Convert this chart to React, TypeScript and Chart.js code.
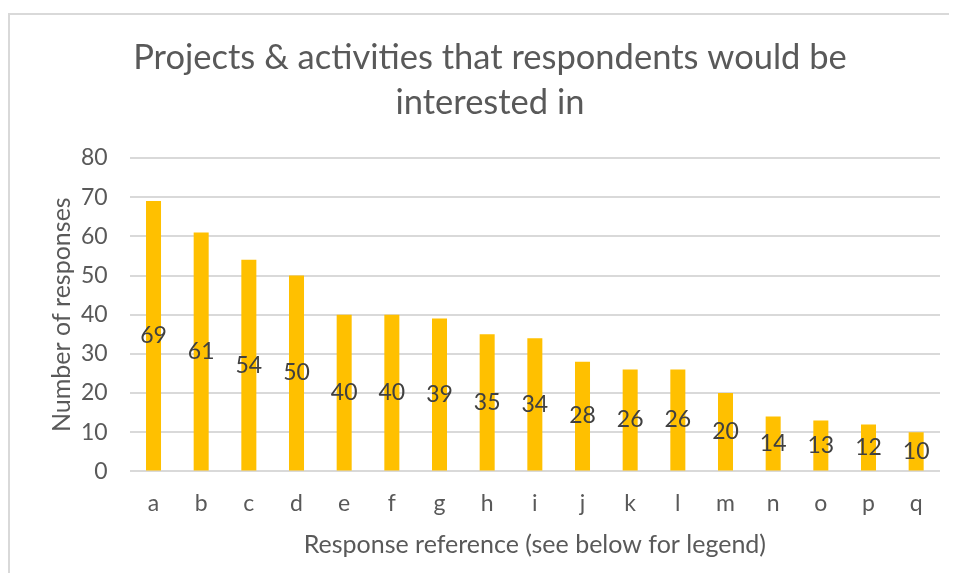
import React, { useEffect, useRef } from "react";
import { Chart, registerables } from "chart.js";

Chart.register(...registerables);

const categories = ["a", "b", "c", "d", "e", "f", "g", "h", "i", "j", "k", "l", "m", "n", "o", "p", "q"];
const responses = [69, 61, 54, 50, 40, 40, 39, 35, 34, 28, 26, 26, 20, 14, 13, 12, 10];
const titleLines = ["Projects & activities that respondents would be", "interested in"];
const yAxisTitle = "Number of responses";
const xAxisTitle = "Response reference (see below for legend)";

const FONT = "Lato, 'Open Sans', sans-serif";
const TEXT = "#595959";

const framePlugin = {
  id: "frame",
  beforeDraw(chart: any) {
    const ctx = chart.ctx;
    ctx.save();
    ctx.fillStyle = "#ffffff";
    ctx.fillRect(0, 0, chart.width, chart.height);
    ctx.strokeStyle = "#d9d9d9";
    ctx.lineWidth = 2;
    ctx.beginPath();
    ctx.moveTo(1, chart.height + 5);
    ctx.lineTo(1, 6);
    ctx.lineTo(chart.width + 5, 6);
    ctx.stroke();
    ctx.restore();
  },
};

const titlePlugin = {
  id: "customTitle",
  afterDraw(chart: any) {
    const ctx = chart.ctx;
    ctx.save();
    ctx.font = `34.5px ${FONT}`;
    ctx.fillStyle = TEXT;
    ctx.textAlign = "center";
    ctx.textBaseline = "middle";
    const cx = 482;
    titleLines.forEach((line, i) => ctx.fillText(line, cx, 50 + i * 45));
    ctx.restore();
  },
};

const labelPlugin = {
  id: "centerLabels",
  afterDatasetsDraw(chart: any) {
    const ctx = chart.ctx;
    const meta = chart.getDatasetMeta(0);
    ctx.save();
    ctx.font = `23px ${FONT}`;
    ctx.fillStyle = "#404040";
    ctx.textAlign = "center";
    ctx.textBaseline = "middle";
    meta.data.forEach((bar: any, i: number) => {
      const y = (bar.y + bar.base) / 2;
      ctx.fillText(String(chart.data.datasets[0].data[i]), bar.x, y);
    });
    ctx.restore();
  },
};

export default function App() {
  const ref = useRef<HTMLCanvasElement>(null);
  useEffect(() => {
    if (!ref.current) return;
    const chart = new Chart(ref.current, {
      type: "bar",
      data: {
        labels: categories,
        datasets: [
          {
            data: responses,
            backgroundColor: "#FFC000",
            barPercentage: 0.63,
            categoryPercentage: 0.5,
          },
        ],
      },
      options: {
        animation: false,
        responsive: false,
        maintainAspectRatio: false,
        layout: { padding: { left: 0, right: 9, top: 150, bottom: 13 } },
        plugins: {
          legend: { display: false },
          tooltip: { enabled: false },
          title: { display: false },
        },
        scales: {
          x: {
            grid: { display: false },
            border: { display: false },
            ticks: { color: TEXT, font: { family: FONT, size: 23 }, padding: 10 },
            title: {
              display: true,
              text: xAxisTitle,
              color: TEXT,
              font: { family: FONT, size: 25 },
              padding: { top: 3, bottom: 0 },
            },
          },
          y: {
            min: 0,
            max: 80,
            ticks: { stepSize: 10, color: TEXT, font: { family: FONT, size: 23 }, padding: 22 },
            grid: { color: "#d9d9d9", lineWidth: 2, drawTicks: false },
            border: { display: false },
            title: {
              display: true,
              text: yAxisTitle,
              color: TEXT,
              font: { family: FONT, size: 25 },
              padding: { top: 39, bottom: -18 },
            },
          },
        },
      },
      plugins: [framePlugin, labelPlugin, titlePlugin],
    });
    return () => chart.destroy();
  }, []);
  return <canvas ref={ref} width={941} height={565} style={{ display: "block" }} />;
}
